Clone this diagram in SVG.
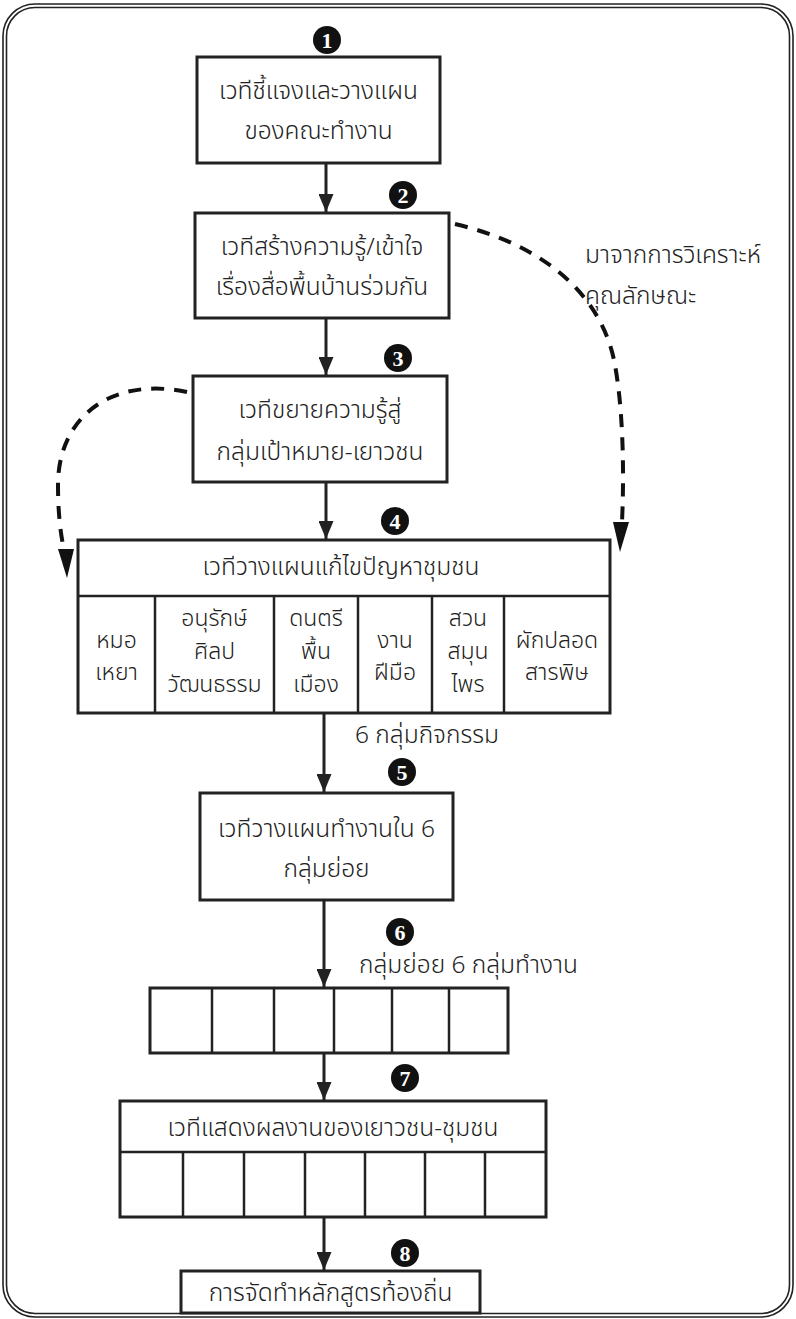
<svg xmlns="http://www.w3.org/2000/svg" width="796" height="1319" viewBox="0 0 796 1319">
<style>
.frame{fill:none;stroke:#222;stroke-width:1.6}
.box{fill:#fff;stroke:#222;stroke-width:3}
.div{stroke:#222;stroke-width:2.5;fill:none}
.t{font-family:"Noto Sans Thai","Noto Sans","DejaVu Sans",sans-serif;font-size:24.5px;font-weight:300;fill:#222;text-anchor:middle}
.c{font-family:"Noto Sans Thai","Noto Sans","DejaVu Sans",sans-serif;font-size:23px;font-weight:300;fill:#222;text-anchor:middle}
.tl{font-family:"Noto Sans Thai","Noto Sans","DejaVu Sans",sans-serif;font-size:24.5px;font-weight:300;fill:#222;text-anchor:start}
.num{fill:#111}
.numt{font-family:"Liberation Serif","DejaVu Serif",serif;font-weight:bold;font-size:22px;fill:#fff;text-anchor:middle}
.arr{stroke:#222;stroke-width:3;fill:none;marker-end:url(#ah)}
.dash{stroke:#111;stroke-width:4;fill:none;stroke-dasharray:13 10}
</style>
<defs>
<marker id="ah" viewBox="0 0 18 15" refX="18" refY="7.5" markerWidth="18" markerHeight="15" markerUnits="userSpaceOnUse" orient="auto">
<path d="M0,0 L18,7.5 L0,15 Z" fill="#222"/>
</marker>
</defs>
<rect class="frame" x="3" y="4" width="790" height="1313" rx="32"/>
<rect class="frame" x="6.5" y="7.5" width="783" height="1306" rx="28.5"/>

<g id="connectors">
<line class="arr" x1="326" y1="163" x2="326" y2="212"/>
<line class="arr" x1="326" y1="318" x2="326" y2="375"/>
<line class="arr" x1="326" y1="482" x2="326" y2="539"/>
<line class="arr" x1="324" y1="713" x2="324" y2="792"/>
<line class="arr" x1="324" y1="900" x2="324" y2="987"/>
<line class="arr" x1="324" y1="1053" x2="324" y2="1100"/>
<line class="arr" x1="324" y1="1217" x2="324" y2="1270"/>
<path class="dash" d="M187,392 C110,376 58,418 58,485 C58,520 62,540 64,550"/>
<path d="M58,549 L74,549 L67,578 Z" fill="#111"/>
<path class="dash" d="M455,224 C545,245 600,295 614,360 C624,410 624,480 622,522"/>
<path d="M613,522 L629,522 L620,552 Z" fill="#111"/>
</g>

<g id="n1">
<circle class="num" cx="327" cy="40" r="14"/><text class="numt" x="327" y="47.5">1</text>
<rect class="box" x="197" y="57" width="243" height="106"/>
<text class="t" x="318.5" y="99">เวทีชี้แจงและวางแผน</text>
<text class="t" x="318.5" y="139">ของคณะทำงาน</text>
</g>

<g id="n2">
<circle class="num" cx="403" cy="195" r="14"/><text class="numt" x="403" y="202.5">2</text>
<rect class="box" x="195" y="213" width="254" height="105"/>
<text class="t" x="322" y="255">เวทีสร้างความรู้/เข้าใจ</text>
<text class="t" x="322" y="295">เรื่องสื่อพื้นบ้านร่วมกัน</text>
</g>

<g id="label-analysis">
<text class="tl" x="585" y="263">มาจากการวิเคราะห์</text>
<text class="tl" x="585" y="304">คุณลักษณะ</text>
</g>

<g id="n3">
<circle class="num" cx="398" cy="358" r="14"/><text class="numt" x="398" y="365.5">3</text>
<rect class="box" x="193" y="376" width="254" height="106"/>
<text class="t" x="320" y="418">เวทีขยายความรู้สู่</text>
<text class="t" x="320" y="460">กลุ่มเป้าหมาย-เยาวชน</text>
</g>

<g id="n4">
<circle class="num" cx="395" cy="521" r="14"/><text class="numt" x="395" y="528.5">4</text>
<rect class="box" x="78" y="540" width="532" height="173"/>
<line class="div" x1="78" y1="596" x2="610" y2="596"/>
<line class="div" x1="155" y1="596" x2="155" y2="713"/>
<line class="div" x1="274" y1="596" x2="274" y2="713"/>
<line class="div" x1="358" y1="596" x2="358" y2="713"/>
<line class="div" x1="432" y1="596" x2="432" y2="713"/>
<line class="div" x1="504" y1="596" x2="504" y2="713"/>
<text class="t" x="341" y="575">เวทีวางแผนแก้ไขปัญหาชุมชน</text>
<text class="c"><tspan x="116.5" y="648">หมอ</tspan><tspan x="116.5" y="680">เหยา</tspan></text>
<text class="c"><tspan x="214.5" y="626">อนุรักษ์</tspan><tspan x="214.5" y="659">ศิลป</tspan><tspan x="214.5" y="692">วัฒนธรรม</tspan></text>
<text class="c"><tspan x="316" y="626">ดนตรี</tspan><tspan x="316" y="659">พื้น</tspan><tspan x="316" y="692">เมือง</tspan></text>
<text class="c"><tspan x="395" y="648">งาน</tspan><tspan x="395" y="680">ฝีมือ</tspan></text>
<text class="c"><tspan x="468" y="626">สวน</tspan><tspan x="468" y="659">สมุน</tspan><tspan x="468" y="692">ไพร</tspan></text>
<text class="c"><tspan x="557" y="648">ผักปลอด</tspan><tspan x="557" y="680">สารพิษ</tspan></text>
</g>

<g id="label-6groups">
<text class="tl" x="355" y="743">6 กลุ่มกิจกรรม</text>
</g>

<g id="n5">
<circle class="num" cx="402" cy="772" r="14"/><text class="numt" x="402" y="779.5">5</text>
<rect class="box" x="200" y="793" width="253" height="107"/>
<text class="t" x="326.5" y="837">เวทีวางแผนทำงานใน 6</text>
<text class="t" x="326.5" y="877">กลุ่มย่อย</text>
</g>

<g id="n6">
<circle class="num" cx="400" cy="932" r="14"/><text class="numt" x="400" y="939.5">6</text>
<text class="tl" x="359" y="973">กลุ่มย่อย 6 กลุ่มทำงาน</text>
<rect class="box" x="150" y="988" width="358" height="65"/>
<line class="div" x1="212" y1="988" x2="212" y2="1053"/>
<line class="div" x1="274" y1="988" x2="274" y2="1053"/>
<line class="div" x1="334" y1="988" x2="334" y2="1053"/>
<line class="div" x1="392" y1="988" x2="392" y2="1053"/>
<line class="div" x1="449" y1="988" x2="449" y2="1053"/>
</g>

<g id="n7">
<circle class="num" cx="405" cy="1078" r="14"/><text class="numt" x="405" y="1085.5">7</text>
<rect class="box" x="120" y="1101" width="426" height="116"/>
<line class="div" x1="120" y1="1152" x2="546" y2="1152"/>
<line class="div" x1="183" y1="1152" x2="183" y2="1217"/>
<line class="div" x1="244" y1="1152" x2="244" y2="1217"/>
<line class="div" x1="305" y1="1152" x2="305" y2="1217"/>
<line class="div" x1="365" y1="1152" x2="365" y2="1217"/>
<line class="div" x1="425" y1="1152" x2="425" y2="1217"/>
<line class="div" x1="485" y1="1152" x2="485" y2="1217"/>
<text class="t" x="333" y="1136">เวทีแสดงผลงานของเยาวชน-ชุมชน</text>
</g>

<g id="n8">
<circle class="num" cx="405" cy="1253" r="14"/><text class="numt" x="405" y="1260.5">8</text>
<rect class="box" x="181" y="1271" width="299" height="42"/>
<text class="t" x="330.5" y="1301">การจัดทำหลักสูตรท้องถิ่น</text>
</g>
</svg>
